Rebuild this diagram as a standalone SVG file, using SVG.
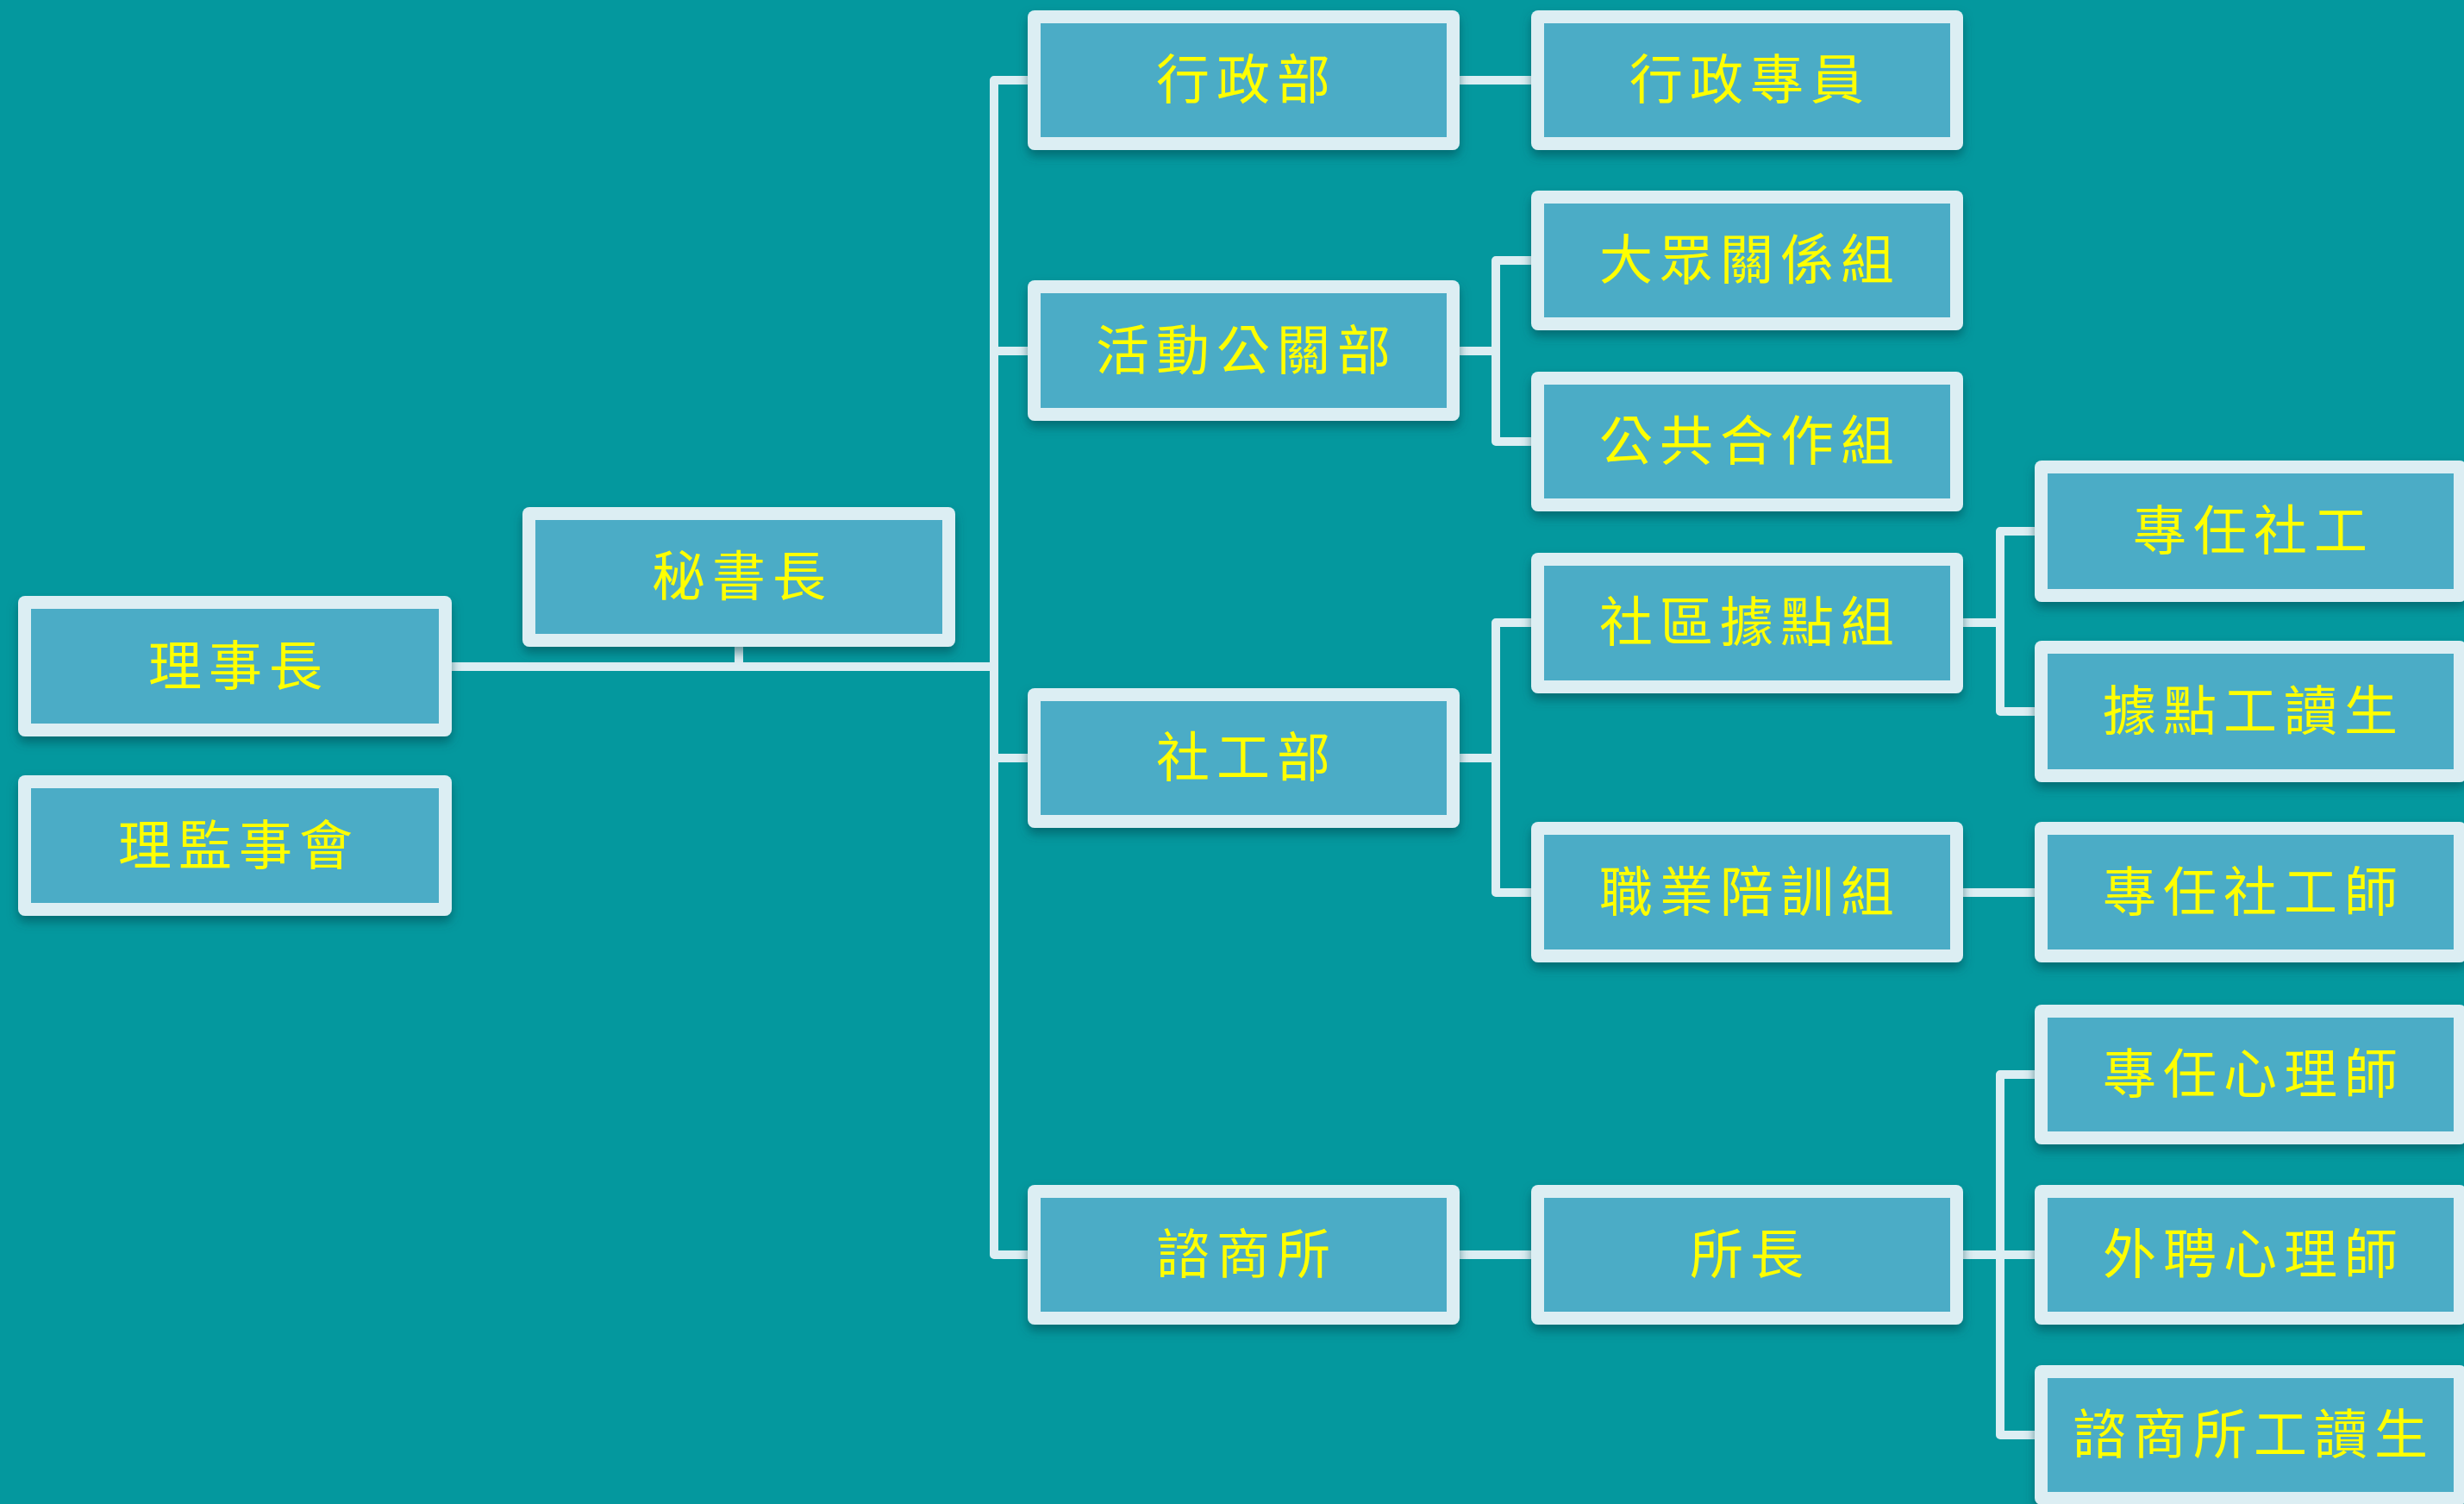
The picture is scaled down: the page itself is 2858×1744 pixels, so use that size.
<svg xmlns="http://www.w3.org/2000/svg" width="2858" height="1744" viewBox="0 0 2858 1744">
<defs>
<filter id="sh" x="-10%" y="-10%" width="120%" height="140%">
<feDropShadow dx="0" dy="7" stdDeviation="6" flood-color="#004a50" flood-opacity="0.55"/>
</filter>
<style>
.o{fill:#DCEEF3;filter:url(#sh)}
.i{fill:#4BACC6}
.t{fill:#FFFF00;font-family:"Noto Sans CJK TC","Noto Sans CJK SC",sans-serif;font-size:62px;letter-spacing:8px;text-anchor:middle}
.c{fill:none;stroke:#DCEEF3;stroke-width:10;stroke-linejoin:round;stroke-linecap:butt}
</style>
</defs>
<rect width="2858" height="1744" fill="#04989E"/>
<g id="connectors">
<path class="c" d="M524 773 H1153"/>
<path class="c" d="M857 750 V773"/>
<path class="c" d="M1192 93 H1153 V1455 H1192"/>
<path class="c" d="M1153 407 H1192"/>
<path class="c" d="M1153 879 H1192"/>
<path class="c" d="M1693 93 H1776"/>
<path class="c" d="M1693 407 H1735"/>
<path class="c" d="M1776 302 H1735 V512 H1776"/>
<path class="c" d="M1693 879 H1735"/>
<path class="c" d="M1776 722 H1735 V1035 H1776"/>
<path class="c" d="M2277 722 H2320"/>
<path class="c" d="M2360 616 H2320 V825 H2360"/>
<path class="c" d="M2277 1035 H2360"/>
<path class="c" d="M1693 1455 H1776"/>
<path class="c" d="M2277 1455 H2360"/>
<path class="c" d="M2360 1246 H2320 V1664 H2360"/>
</g>
<g id="n_lishizhang"><rect class="o" x="21" y="691" width="503" height="163" rx="8"/><rect class="i" x="36" y="706" width="473" height="133"/><text class="t" x="277" y="795">理事長</text></g>
<g id="n_lijianshihui"><rect class="o" x="21" y="899" width="503" height="163" rx="8"/><rect class="i" x="36" y="914" width="473" height="133"/><text class="t" x="277" y="1003">理監事會</text></g>
<g id="n_mishuzhang"><rect class="o" x="606" y="588" width="502" height="162" rx="8"/><rect class="i" x="621" y="603" width="472" height="132"/><text class="t" x="861" y="691">秘書長</text></g>
<g id="n_xingzhengbu"><rect class="o" x="1192" y="12" width="501" height="162" rx="8"/><rect class="i" x="1207" y="27" width="471" height="132"/><text class="t" x="1446" y="115">行政部</text></g>
<g id="n_huodong"><rect class="o" x="1192" y="325" width="501" height="163" rx="8"/><rect class="i" x="1207" y="340" width="471" height="133"/><text class="t" x="1446" y="429">活動公關部</text></g>
<g id="n_shegongbu"><rect class="o" x="1192" y="798" width="501" height="162" rx="8"/><rect class="i" x="1207" y="813" width="471" height="132"/><text class="t" x="1446" y="901">社工部</text></g>
<g id="n_zixunsuo"><rect class="o" x="1192" y="1374" width="501" height="162" rx="8"/><rect class="i" x="1207" y="1389" width="471" height="132"/><text class="t" x="1446" y="1477">諮商所</text></g>
<g id="n_xingzhengzhuanyuan"><rect class="o" x="1776" y="12" width="501" height="162" rx="8"/><rect class="i" x="1791" y="27" width="471" height="132"/><text class="t" x="2030" y="115">行政專員</text></g>
<g id="n_dazhong"><rect class="o" x="1776" y="221" width="501" height="162" rx="8"/><rect class="i" x="1791" y="236" width="471" height="132"/><text class="t" x="2030" y="324">大眾關係組</text></g>
<g id="n_gonggong"><rect class="o" x="1776" y="431" width="501" height="162" rx="8"/><rect class="i" x="1791" y="446" width="471" height="132"/><text class="t" x="2030" y="534">公共合作組</text></g>
<g id="n_shequ"><rect class="o" x="1776" y="641" width="501" height="163" rx="8"/><rect class="i" x="1791" y="656" width="471" height="133"/><text class="t" x="2030" y="744">社區據點組</text></g>
<g id="n_zhiye"><rect class="o" x="1776" y="953" width="501" height="163" rx="8"/><rect class="i" x="1791" y="968" width="471" height="133"/><text class="t" x="2030" y="1057">職業陪訓組</text></g>
<g id="n_suozhang"><rect class="o" x="1776" y="1374" width="501" height="162" rx="8"/><rect class="i" x="1791" y="1389" width="471" height="132"/><text class="t" x="2030" y="1477">所長</text></g>
<g id="n_zhuanrensg"><rect class="o" x="2360" y="534" width="501" height="164" rx="8"/><rect class="i" x="2375" y="549" width="471" height="134"/><text class="t" x="2614" y="638">專任社工</text></g>
<g id="n_judiangds"><rect class="o" x="2360" y="743" width="501" height="164" rx="8"/><rect class="i" x="2375" y="758" width="471" height="134"/><text class="t" x="2614" y="847">據點工讀生</text></g>
<g id="n_zhuanrensgs"><rect class="o" x="2360" y="953" width="501" height="163" rx="8"/><rect class="i" x="2375" y="968" width="471" height="133"/><text class="t" x="2614" y="1057">專任社工師</text></g>
<g id="n_zhuanrenxl"><rect class="o" x="2360" y="1165" width="501" height="162" rx="8"/><rect class="i" x="2375" y="1180" width="471" height="132"/><text class="t" x="2614" y="1268">專任心理師</text></g>
<g id="n_waipin"><rect class="o" x="2360" y="1374" width="501" height="162" rx="8"/><rect class="i" x="2375" y="1389" width="471" height="132"/><text class="t" x="2614" y="1477">外聘心理師</text></g>
<g id="n_zixungds"><rect class="o" x="2360" y="1583" width="501" height="162" rx="8"/><rect class="i" x="2375" y="1598" width="471" height="132"/><text class="t" x="2614" y="1686">諮商所工讀生</text></g>
</svg>
